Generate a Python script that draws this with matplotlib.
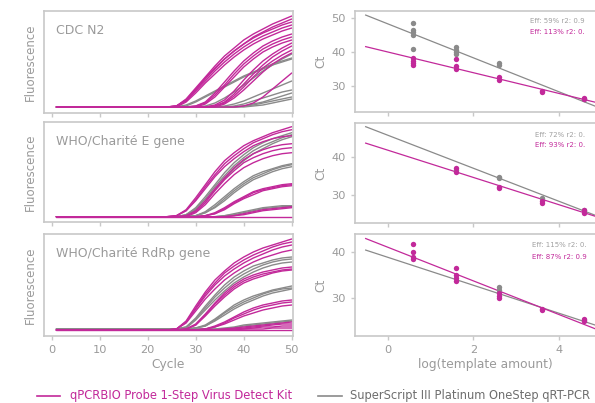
import numpy as np
import matplotlib
matplotlib.use("Agg")
import matplotlib.pyplot as plt
from matplotlib.lines import Line2D

W, H = 595, 403
MAG = "#c2299a"
GRY = "#8a8a8a"
TXT = "#9a9a9a"
FRAME = "#c8c8c8"

plt.rcParams['font.family'] = ['DejaVu Sans']

# ---------------- data ----------------
cycles = [1, 24, 26, 28, 30, 32, 34, 36, 38, 40, 42, 44, 46, 48, 50]

panel_titles = ["CDC N2", "WHO/Charité E gene", "WHO/Charité RdRp gene"]

n2_magenta = [
    [0, 0, 1, 8, 19, 30, 41, 51, 59, 67, 73, 78, 83, 87, 91],
    [0, 0, 1, 7, 17, 28, 38, 48, 56, 63, 70, 75, 80, 84, 88],
    [0, 0, 1, 7, 18, 29, 39, 48, 56, 63, 69, 74, 78, 82, 85],
    [0, 0, 1, 6, 16, 26, 36, 45, 53, 60, 66, 71, 75, 79, 82],
    [0, 0, 0, 5, 14, 24, 33, 42, 50, 57, 63, 68, 72, 76, 79],
    [0, 0, 0, 0, 1, 5, 14, 25, 36, 46, 54, 61, 66, 70, 73],
    [0, 0, 0, 0, 1, 4, 12, 22, 33, 43, 51, 58, 63, 67, 70],
    [0, 0, 0, 0, 0, 3, 10, 20, 30, 40, 48, 55, 60, 64, 67],
    [0, 0, 0, 0, 0, 0, 2, 7, 16, 27, 37, 46, 53, 59, 64],
    [0, 0, 0, 0, 0, 0, 1, 5, 13, 23, 33, 42, 50, 56, 61],
    [0, 0, 0, 0, 0, 0, 1, 4, 11, 20, 30, 39, 46, 52, 57],
    [0, 0, 0, 0, 0, 0, 0, 3, 9, 17, 26, 35, 43, 49, 54],
    [0, 0, 0, 0, 0, 0, 0, 0, 0, 1, 4, 10, 18, 26, 34],
]
n2_gray = [
    [0, 0, 0, 2, 6, 11, 16, 21, 26, 31, 35, 39, 43, 46, 49],
    [0, 0, 0, 1, 5, 10, 15, 20, 25, 30, 34, 38, 42, 45, 48],
    [0, 0, 0, 0, 0, 1, 4, 9, 15, 22, 29, 36, 42, 48, 53],
    [0, 0, 0, 0, 0, 0, 0, 1, 3, 6, 10, 14, 18, 22, 26],
    [0, 0, 0, 0, 0, 0, 0, 0, 1, 3, 6, 9, 12, 15, 17],
    [0, 0, 0, 0, 0, 0, 0, 0, 0, 1, 3, 5, 8, 11, 14],
    [0, 0, 0, 0, 0, 0, 0, 0, 0, 1, 2, 4, 6, 8, 10],
    [0, 0, 0, 0, 0, 0, 0, 0, 0, 0, 1, 2, 4, 6, 8],
]

e_magenta = [
    [0, 0, 1, 7, 19, 32, 45, 56, 64, 71, 76, 80, 84, 87, 90],
    [0, 0, 1, 6, 17, 30, 42, 53, 61, 68, 74, 78, 82, 85, 87],
    [0, 0, 1, 6, 16, 28, 40, 50, 58, 65, 71, 75, 78, 80, 81],
    [0, 0, 0, 1, 6, 16, 28, 39, 49, 57, 63, 67, 70, 72, 73],
    [0, 0, 0, 1, 5, 14, 26, 37, 46, 54, 59, 63, 66, 68, 69],
    [0, 0, 0, 0, 4, 12, 23, 33, 42, 49, 54, 58, 61, 63, 64],
    [0, 0, 0, 0, 0, 1, 4, 9, 15, 20, 25, 28, 30, 32, 33],
    [0, 0, 0, 0, 0, 1, 3, 8, 14, 19, 24, 27, 29, 31, 32],
    [0, 0, 0, 0, 0, 1, 3, 7, 13, 18, 22, 26, 28, 30, 31],
    [0, 0, 0, 0, 0, 0, 0, 0, 1, 3, 5, 7, 8, 9, 10],
    [0, 0, 0, 0, 0, 0, 0, 0, 1, 2, 4, 6, 7, 8, 9],
    [0, 0, 0, 0, 0, 0, 0, 0, 0, 0, 0, 0, 0, 0, 0],
]
e_gray = [
    [0, 0, 0, 2, 9, 20, 32, 44, 54, 62, 69, 74, 78, 81, 84],
    [0, 0, 0, 2, 8, 18, 30, 41, 51, 59, 66, 71, 75, 79, 82],
    [0, 0, 0, 1, 7, 16, 27, 38, 48, 56, 63, 68, 73, 77, 80],
    [0, 0, 0, 0, 1, 5, 12, 20, 28, 35, 41, 45, 48, 51, 53],
    [0, 0, 0, 0, 1, 4, 10, 18, 26, 33, 39, 43, 47, 50, 52],
    [0, 0, 0, 0, 1, 4, 9, 16, 24, 31, 37, 41, 45, 48, 50],
    [0, 0, 0, 0, 0, 0, 0, 1, 3, 5, 7, 9, 10, 11, 11],
    [0, 0, 0, 0, 0, 0, 0, 1, 2, 4, 6, 8, 9, 10, 10],
]

rdrp_magenta = [
    [0, 0, 1, 9, 24, 38, 50, 59, 67, 73, 78, 82, 85, 88, 91],
    [0, 0, 1, 8, 22, 36, 47, 57, 64, 70, 75, 79, 83, 86, 88],
    [0, 0, 1, 8, 21, 34, 45, 54, 61, 67, 72, 76, 80, 83, 85],
    [0, 0, 1, 7, 19, 31, 41, 50, 57, 63, 68, 72, 75, 78, 80],
    [0, 0, 0, 1, 6, 16, 27, 37, 45, 51, 55, 58, 60, 62, 63],
    [0, 0, 0, 1, 5, 15, 26, 35, 43, 49, 53, 56, 58, 60, 61],
    [0, 0, 0, 1, 5, 14, 24, 33, 41, 47, 51, 54, 57, 59, 60],
    [0, 0, 0, 0, 0, 1, 4, 8, 13, 18, 22, 25, 27, 29, 30],
    [0, 0, 0, 0, 0, 1, 3, 7, 12, 16, 20, 23, 25, 27, 28],
    [0, 0, 0, 0, 0, 1, 3, 6, 10, 14, 17, 20, 22, 24, 25],
    [0, 0, 0, 0, 0, 0, 0, 1, 2, 3, 4, 5, 6, 7, 8],
    [0, 0, 0, 0, 0, 0, 0, 1, 1, 2, 3, 4, 5, 6, 6],
    [0, 0, 0, 0, 0, 0, 0, 0, 1, 1, 2, 3, 3, 4, 4],
    [0, 0, 0, 0, 0, 0, 0, 0, 0, 1, 1, 1, 2, 2, 2],
    [0, 0, 0, 0, 0, 0, 0, 0, 0, 0, 0, 0, 0, 0, 0],
]
rdrp_gray = [
    [1, 1, 1, 3, 12, 24, 35, 45, 53, 59, 64, 67, 70, 72, 73],
    [1, 1, 1, 3, 11, 22, 33, 42, 50, 56, 61, 65, 68, 70, 71],
    [1, 1, 1, 2, 10, 20, 30, 39, 47, 53, 58, 62, 65, 67, 68],
    [1, 1, 1, 1, 2, 5, 11, 18, 25, 30, 34, 37, 40, 42, 44],
    [1, 1, 1, 1, 2, 4, 10, 17, 23, 28, 32, 36, 39, 41, 42],
    [1, 1, 1, 1, 2, 4, 9, 15, 21, 26, 30, 34, 37, 39, 41],
    [1, 1, 1, 1, 1, 1, 1, 2, 3, 5, 6, 7, 8, 9, 10],
    [1, 1, 1, 1, 1, 1, 1, 1, 2, 4, 5, 6, 7, 8, 9],
]

# standard curves: log(template amount) vs Ct
n2_gray_x = [0.6, 0.6, 0.6, 0.6, 0.6, 1.6, 1.6, 1.6, 1.6, 2.6, 2.6, 4.6]
n2_gray_ct = [48.6, 46.5, 45.9, 45.0, 40.9, 41.4, 40.6, 39.9, 39.3, 36.9, 36.2, 26.2]
n2_mag_x = [0.6, 0.6, 0.6, 0.6, 1.6, 1.6, 1.6, 2.6, 2.6, 3.6, 3.6, 4.6, 4.6]
n2_mag_ct = [38.1, 37.4, 36.7, 36.2, 37.9, 35.9, 35.0, 32.6, 31.8, 28.6, 28.2, 26.4, 26.0]

e_gray_x = [1.6, 2.6, 2.6, 3.6, 4.6]
e_gray_ct = [36.5, 34.8, 34.5, 29.1, 26.2]
e_mag_x = [1.6, 1.6, 2.6, 2.6, 3.6, 3.6, 4.6, 4.6]
e_mag_ct = [37.0, 36.1, 32.2, 31.8, 28.4, 27.8, 26.1, 25.4]

rdrp_gray_x = [2.6, 2.6, 4.6]
rdrp_gray_ct = [32.3, 31.7, 25.2]
rdrp_mag_x = [0.6, 0.6, 0.6, 0.6, 1.6, 1.6, 1.6, 1.6, 2.6, 2.6, 2.6, 3.6, 3.6, 4.6, 4.6]
rdrp_mag_ct = [41.7, 40.0, 38.9, 38.5, 36.4, 35.0, 34.2, 33.7, 30.9, 30.3, 30.0, 27.4, 27.2, 25.4, 24.9]

# fitted lines (slope, intercept)
gray_slopes = [-5.0, -4.3, -3.05]
gray_intercepts = [48.3, 45.6, 38.8]
mag_slopes = [-3.05, -3.55, -3.67]
mag_intercepts = [40.0, 41.7, 41.0]

gray_eff = ["Eff: 59% r2: 0.9", "Eff: 72% r2: 0.", "Eff: 115% r2: 0."]
mag_eff = ["Eff: 113% r2: 0.", "Eff: 93% r2: 0.", "Eff: 87% r2: 0.9"]

legend_labels = ["qPCRBIO Probe 1-Step Virus Detect Kit",
                 "SuperScript III Platinum OneStep qRT-PCR"]

# ---------------- layout ----------------
fig = plt.figure(figsize=(W / 100, H / 100), dpi=100)


def ax_px(x0, y0, x1, y1):
    return fig.add_axes([x0 / W, 1 - y1 / H, (x1 - x0) / W, (y1 - y0) / H])


rows_left = [(11, 113), (122, 222), (234, 336)]
rows_right = [(11, 112), (123, 223), (234, 336)]
left_ylims = [(-6, 96), (-5.3, 94.7), (-6, 96)]
right_ylims = [(22.3, 52.1), (22.7, 48.8), (21.6, 43.9)]
right_yticks = [[30, 40, 50], [30, 40], [30, 40]]

curve_sets = [(n2_gray, n2_magenta), (e_gray, e_magenta), (rdrp_gray, rdrp_magenta)]
scatter_sets = [
    (n2_gray_x, n2_gray_ct, n2_mag_x, n2_mag_ct),
    (e_gray_x, e_gray_ct, e_mag_x, e_mag_ct),
    (rdrp_gray_x, rdrp_gray_ct, rdrp_mag_x, rdrp_mag_ct),
]
eff_y = [(21, 32), (135, 145), (245, 257)]
eff_x = [530, 535, 532]


def style(ax):
    for s in ax.spines.values():
        s.set_color(FRAME)
        s.set_linewidth(1.2)
    ax.tick_params(colors=FRAME, labelcolor=TXT, labelsize=8.2, length=3, width=1)


for i in range(3):
    # amplification plots
    ax = ax_px(44, rows_left[i][0], 293, rows_left[i][1])
    style(ax)
    g, m = curve_sets[i]
    for c in g:
        ax.plot(cycles, c, color=GRY, lw=1.0, solid_capstyle='round')
    for c in m:
        ax.plot(cycles, c, color=MAG, lw=1.0, solid_capstyle='round')
    ax.set_xlim(-1.6, 50.26)
    ax.set_ylim(*left_ylims[i])
    ax.set_yticks([])
    ax.set_xticks([0, 10, 20, 30, 40, 50])
    if i < 2:
        ax.set_xticklabels([])
    else:
        ax.set_xlabel("Cycle", color=TXT, fontsize=8.8, labelpad=2)
    ax.set_ylabel("Fluorescence", color=TXT, fontsize=8.5, labelpad=5)
    ax.text(0.05, 0.77, panel_titles[i], transform=ax.transAxes, color=TXT,
            fontsize=9, ha='left', va='baseline')

    # standard curves
    axr = ax_px(355, rows_right[i][0], 615, rows_right[i][1])
    style(axr)
    gx, gy, mx, my = scatter_sets[i]
    xs = np.array([-0.52, 5.4])
    axr.plot(xs, gray_slopes[i] * xs + gray_intercepts[i], color=GRY, lw=0.9)
    axr.plot(xs, mag_slopes[i] * xs + mag_intercepts[i], color=MAG, lw=0.9)
    axr.scatter(gx, gy, s=15, color=GRY, zorder=3, linewidths=0)
    axr.scatter(mx, my, s=15, color=MAG, zorder=4, linewidths=0)
    axr.set_xlim(-0.77, 5.32)
    axr.set_ylim(*right_ylims[i])
    axr.set_yticks(right_yticks[i])
    axr.set_xticks([0, 2, 4])
    if i < 2:
        axr.set_xticklabels([])
    else:
        axr.set_xlabel("log(template amount)", color=TXT, fontsize=8.8, labelpad=2)
    axr.set_ylabel("Ct", color=TXT, fontsize=8.8, labelpad=3)
    fig.text(eff_x[i] / W, 1 - eff_y[i][0] / H, gray_eff[i], color="#a0a0a0",
             fontsize=5, ha='left', va='center')
    fig.text(eff_x[i] / W, 1 - eff_y[i][1] / H, mag_eff[i], color=MAG,
             fontsize=5, ha='left', va='center')

# legend
fig.add_artist(Line2D([37 / W, 60 / W], [1 - 396 / H] * 2, color=MAG, lw=1.2))
fig.text(70 / W, 1 - 396 / H, legend_labels[0], color=MAG, fontsize=8.3,
         ha='left', va='center')
fig.add_artist(Line2D([318 / W, 342 / W], [1 - 396 / H] * 2, color=GRY, lw=1.2))
fig.text(350 / W, 1 - 396 / H, legend_labels[1], color="#6e6e6e", fontsize=8.3,
         ha='left', va='center')

fig.savefig("out.png", dpi=100)
